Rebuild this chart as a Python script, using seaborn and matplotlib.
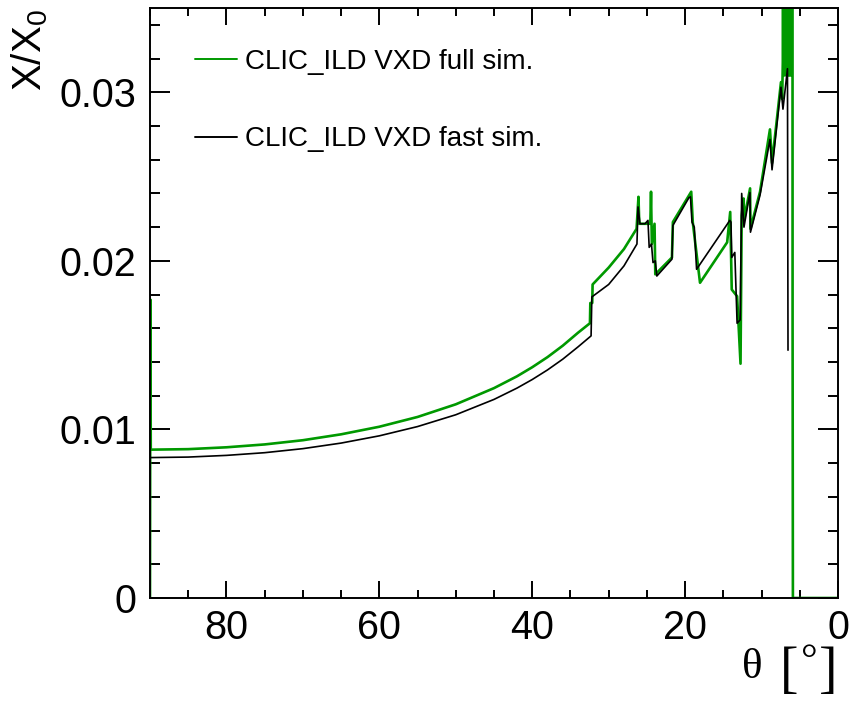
import matplotlib
matplotlib.use("Agg")
import matplotlib.pyplot as plt
from matplotlib.ticker import MultipleLocator
import seaborn as sns
import pandas as pd

# ---------------- data ----------------
theta_full = [90.0, 89.95, 89.9, 85, 80, 75, 70, 65, 60, 55,
              50, 45, 42, 40, 38, 36, 34, 32.45, 32.4, 32.15,
              32.1, 30, 28, 26.35, 26.1, 26.0, 24.55, 24.46, 24.35, 24.0,
              23.9, 21.72, 21.6, 19.2, 19.0, 18.05, 14.5, 14.1, 13.9, 13.2,
              12.75, 12.6, 12.35, 12.25, 11.5, 11.45, 10.2, 8.9, 8.63, 7.46,
              7.3, 7.22, 7.2, 7.0, 6.95, 6.75, 6.7, 6.5, 6.45, 6.35,
              6.33, 6.12, 6.1, 5.96, 5.94, 5.9, 0.0]
xx0_full = [0.0, 0.0177, 0.0088, 0.00883, 0.00894, 0.00911, 0.00936, 0.00971, 0.01016, 0.01074,
            0.01149, 0.01245, 0.01315, 0.01369, 0.01429, 0.01497, 0.01574, 0.0163, 0.0175, 0.0175,
            0.0186, 0.0196, 0.0207, 0.0219, 0.0238, 0.0222, 0.0222, 0.0241, 0.0210, 0.0222,
            0.0192, 0.0202, 0.0223, 0.0241, 0.0223, 0.0187, 0.0211, 0.0229, 0.0183, 0.0179,
            0.0139, 0.0227, 0.0237, 0.0225, 0.0243, 0.0219, 0.0241, 0.0278, 0.0258, 0.0306,
            0.0296, 0.0318, 0.06, 0.031, 0.06, 0.031, 0.06, 0.031, 0.06, 0.06,
            0.031, 0.031, 0.06, 0.06, 0.0159, 0.0, 0.0]

theta_fast = [90, 85, 80, 75, 70, 65, 60, 55, 50, 45,
              42, 40, 38, 36, 34, 32.3, 32.2, 30, 28, 26.3,
              26.16, 25.9, 25.25, 24.86, 24.7, 24.4, 24.2, 23.9, 23.7, 21.72,
              21.6, 19.5, 19.3, 19.1, 18.8, 18.5, 14.15, 14.0, 13.9, 13.5,
              13.2, 12.8, 12.6, 12.3, 11.52, 11.45, 10.2, 8.9, 8.63, 7.46,
              7.2, 6.61, 6.54]
xx0_fast = [0.00833, 0.00836, 0.00846, 0.00862, 0.00886, 0.00919, 0.00962, 0.01017, 0.01087, 0.01178,
            0.01245, 0.01296, 0.01353, 0.01417, 0.01490, 0.01555, 0.01786, 0.0186, 0.0197, 0.0210,
            0.0232, 0.0222, 0.0222, 0.0224, 0.0208, 0.0210, 0.0199, 0.0200, 0.0191, 0.0201,
            0.0221, 0.02375, 0.0238, 0.0223, 0.0220, 0.0195, 0.0224, 0.0223, 0.0202, 0.0205,
            0.0163, 0.0165, 0.0240, 0.0220, 0.02405, 0.0217, 0.0239, 0.0272, 0.0254, 0.0303,
            0.0290, 0.0314, 0.0147]

label_full = "CLIC_ILD VXD full sim."
label_fast = "CLIC_ILD VXD fast sim."
x_ticks = [80, 60, 40, 20, 0]
x_ticklabels = ["80", "60", "40", "20", "0"]
y_ticks = [0.0, 0.01, 0.02, 0.03]
y_ticklabels = ["0", "0.01", "0.02", "0.03"]

# ---------------- style ----------------
sns.set_theme(style="ticks")
plt.rcParams["font.family"] = ["Liberation Sans", "DejaVu Sans"]
plt.rcParams["mathtext.fontset"] = "custom"
plt.rcParams["mathtext.rm"] = "Liberation Sans"
plt.rcParams["mathtext.it"] = "Liberation Sans"
plt.rcParams["text.color"] = "black"

fig = plt.figure(figsize=(8.5, 7.01), dpi=100)
ax = fig.add_axes([150 / 850, 1 - 598 / 701, 688 / 850, 590 / 701])

df_full = pd.DataFrame({"theta": theta_full, "x0": xx0_full})
df_fast = pd.DataFrame({"theta": theta_fast, "x0": xx0_fast})

sns.lineplot(data=df_full, x="theta", y="x0", sort=False, estimator=None,
             color="#009900", linewidth=1.9, ax=ax, label=label_full)
sns.lineplot(data=df_fast, x="theta", y="x0", sort=False, estimator=None,
             color="black", linewidth=1.2, ax=ax, label=label_fast)

ax.set_xlim(90, 0)
ax.set_ylim(0, 0.035)
ax.set_xticks(x_ticks)
ax.set_xticklabels(x_ticklabels)
ax.set_yticks(y_ticks)
ax.set_yticklabels(y_ticklabels)
ax.xaxis.set_minor_locator(MultipleLocator(5))
ax.yaxis.set_minor_locator(MultipleLocator(0.002))

ax.tick_params(which="both", direction="in", top=True, right=True,
               width=1.4, colors="black", labelsize=28.5)
ax.tick_params(axis="y", which="major", length=14.4, pad=10)
ax.tick_params(axis="y", which="minor", length=7.2)
ax.tick_params(axis="x", which="major", length=12.2, pad=8)
ax.tick_params(axis="x", which="minor", length=5.8)
for s in ax.spines.values():
    s.set_linewidth(1.4)
    s.set_color("black")
    s.set_visible(True)

ax.set_xlabel("")
ax.set_ylabel("")

fig.text(30 / 850, 1 - 9 / 701, r"X/X$_0$", rotation=90, ha="center", va="top",
         fontsize=29, color="black")
# x-axis title: theta (upright serif) followed by [°]
serif = ["Liberation Serif", "DejaVu Serif"]
fig.text(752 / 850, 1 - 668 / 701, "θ", ha="center", va="center",
         fontsize=31, family=serif, color="black")
fig.text(789 / 850, 1 - 672 / 701, "[", ha="center", va="center",
         fontsize=40, family=serif, color="black")
fig.text(828 / 850, 1 - 672 / 701, "]", ha="center", va="center",
         fontsize=40, family=serif, color="black")
fig.text(809 / 850, 1 - 662 / 701, "°", ha="center", va="center",
         fontsize=30, family=serif, color="black")

leg = ax.legend(loc="upper left", bbox_to_anchor=(45 / 688, 1 - 41 / 590),
                frameon=False, fontsize=20, handlelength=1.5, handletextpad=0.3,
                labelspacing=1.85, borderpad=0, borderaxespad=0,
                labelcolor="black")
for h in leg.get_lines():
    h.set_linewidth(1.4)

fig.savefig("out.png", dpi=100)
